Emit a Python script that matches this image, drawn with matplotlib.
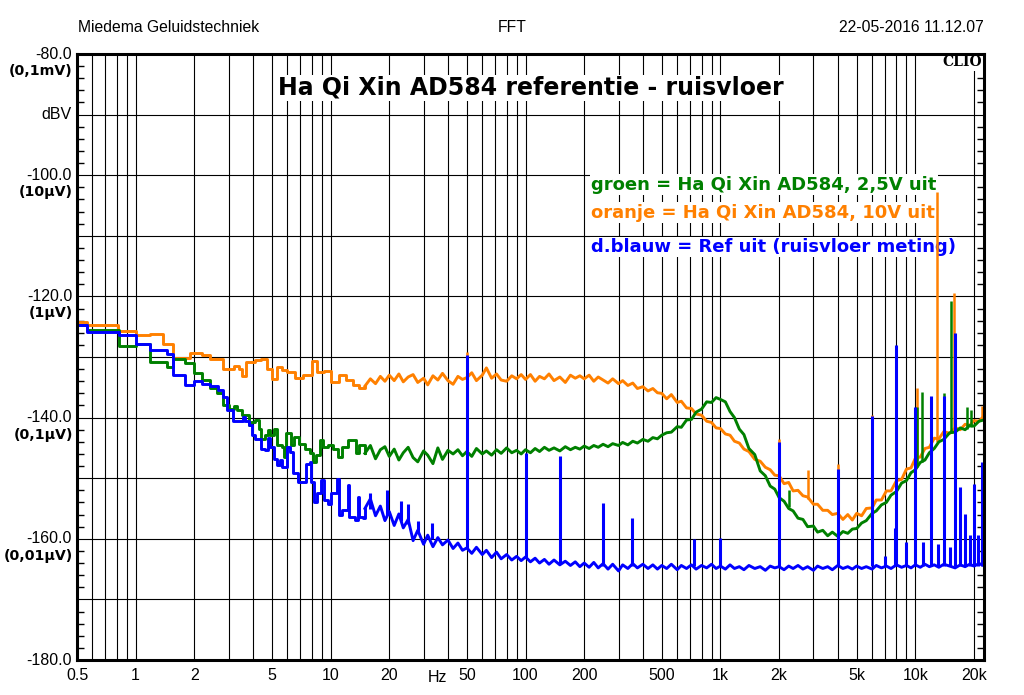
import matplotlib
matplotlib.use('Agg')
import matplotlib.pyplot as plt

# ---- values (Hz, dBV) ----
# low end: step values (each level holds until the next frequency)
lo_orange_hz = [0.5, 0.56, 0.81, 1.0, 1.18, 1.38, 1.55, 1.9, 2.2, 2.4, 2.8, 3.2, 3.4, 3.5, 3.7, 4.1,
                4.4, 4.7, 5.0, 5.3, 5.6, 6.0, 6.6, 7.2, 8.0, 8.5, 9.2, 10, 11, 12, 13, 14]
lo_orange_db = [-124.2, -124.7, -125.7, -126.4, -126.2, -127.8, -130.1, -129.3, -129.7, -130.3, -132.0,
                -131.5, -131.9, -133.2, -130.8, -130.5, -130.3, -131.9, -133.7, -131.6, -132.2, -132.5,
                -133.4, -133.0, -130.7, -132.5, -132.3, -134.1, -133.0, -133.8, -134.7, -135.1]

lo_green_hz = [0.5, 0.56, 0.82, 1.0, 1.18, 1.45, 1.55, 1.8, 2.0, 2.2, 2.4, 2.6, 2.8, 3.0, 3.2, 3.3, 3.5,
               3.8, 3.9, 4.1, 4.3, 4.4, 4.6, 4.8, 4.9, 5.1, 5.3, 5.6, 5.8, 5.9, 6.3, 6.5, 6.9, 7.4, 7.8,
               8.1, 8.4, 8.8, 9.1, 9.7, 10.3, 10.9, 11.5, 12.3, 13.5, 14]
lo_green_db = [-124.8, -125.6, -128.2, -127.8, -130.8, -131.6, -130.4, -131.0, -132.6, -133.8, -135.1,
               -135.9, -138.0, -138.5, -138.1, -138.8, -139.6, -141.3, -140.7, -140.4, -141.8, -143.5,
               -142.9, -142.1, -142.9, -141.8, -144.6, -144.8, -146.5, -142.6, -144.6, -143.2, -144.3,
               -145.1, -145.9, -147.3, -146.2, -143.7, -144.8, -144.6, -145.1, -146.5, -144.8, -143.7,
               -145.9, -144.6]

lo_blue_hz = [0.5, 0.56, 0.82, 1.0, 1.18, 1.45, 1.55, 1.8, 2.0, 2.2, 2.4, 2.65, 2.8, 2.95, 3.15, 3.55,
              3.65, 3.8, 3.95, 4.1, 4.4, 4.6, 4.8, 4.9, 5.1, 5.3, 5.5, 5.65, 5.95, 6.2, 6.4, 6.8, 7.5,
              7.8, 7.9, 8.2, 8.5, 8.9, 9.3, 9.7, 10.1, 10.8, 11, 11.5, 12.3, 12.5, 13.3, 13.8, 14, 14.7]
lo_blue_db = [-124.8, -125.9, -126.3, -127.9, -128.8, -129.5, -133.0, -134.7, -134.0, -134.5, -134.8,
              -135.5, -136.6, -138.8, -140.5, -139.9, -140.5, -141.3, -142.9, -143.5, -145.1, -145.4,
              -143.3, -144.8, -146.8, -147.9, -147.0, -148.1, -144.8, -145.7, -149.2, -150.6, -147.6,
              -147.3, -150.6, -153.9, -152.5, -150.3, -153.6, -154.2, -152.5, -150.1, -156.1, -155.3,
              -151.2, -156.4, -156.9, -153.1, -156.4, -156.6]

# from 15 Hz up: one common frequency grid
grid_hz = [15, 16, 17, 18, 19,
           20, 21.2, 22.4, 23.6, 25, 26.5, 28, 30, 31.5, 33.5, 35.5, 37.5, 40, 42.5, 45, 47.5,
           50, 53, 56, 60, 63, 67, 71, 75, 80, 85, 90, 95,
           100, 106, 112, 118, 125, 132, 140, 150, 160, 170, 180, 190,
           200, 212, 224, 236, 250, 265, 280, 300, 315, 335, 355, 375, 400, 425, 450, 475,
           500, 530, 560, 600, 630, 670, 710, 750, 800, 850, 900, 950,
           1000, 1060, 1120, 1180, 1250, 1320, 1400, 1500, 1600, 1700, 1800, 1900,
           2000, 2120, 2240, 2360, 2500, 2650, 2800, 3000, 3150, 3350, 3550, 3750, 4000, 4250, 4500, 4750,
           5000, 5300, 5600, 6000, 6300, 6700, 7100, 7500, 8000, 8500, 9000, 9500,
           10000, 10600, 11200, 11800, 12500, 13200, 14000, 15000, 16000, 17000, 18000, 19000,
           20000, 21200, 22400]

orange_db = [-134.8, -133.6, -134.4, -133.2, -134.0,
             -133.0, -133.9, -132.8, -134.1, -133.3, -132.9, -134.2, -133.5, -134.6, -133.1, -133.8, -132.7,
             -133.9, -134.5, -133.2, -133.7,
             -133.4, -132.6, -133.9, -133.0, -131.8, -133.5, -132.8, -133.8, -134.0, -133.1, -133.6, -132.9,
             -133.7, -132.9, -134.0, -133.2, -133.6, -132.8, -133.9, -133.3, -134.2, -133.0, -133.5, -133.1,
             -133.6, -133.0, -134.0, -133.3, -133.8, -134.3, -133.6, -134.4, -133.9, -134.7, -134.3, -135.2,
             -134.9, -135.6, -135.2, -135.9,
             -136.0, -136.9, -136.2, -137.5, -137.3, -138.4, -138.5, -139.4, -139.6, -140.6, -140.8, -141.7,
             -141.8, -142.7, -142.9, -143.9, -144.2, -145.2, -145.6, -146.9, -147.2, -148.2, -148.6, -149.5,
             -149.6, -150.9, -150.7, -152.1, -152.0, -152.9, -153.1, -154.3, -154.3, -155.3, -155.3, -156.0,
             -155.8, -156.8, -156.0, -156.9,
             -155.8, -156.2, -155.0, -154.9, -153.6, -153.6, -152.1, -152.1, -150.4, -150.2, -148.5, -148.3,
             -146.7, -146.5, -145.1, -144.9, -143.4, -143.5, -142.3, -142.6, -141.7, -142.0, -141.1, -141.3,
             -140.5, -140.6, -139.8]

green_db = [-145.9, -144.6, -146.8, -145.3, -144.8,
            -146.4, -145.2, -147.0, -145.8, -144.9, -146.6, -147.3, -145.5, -146.2, -147.6, -145.0, -146.9,
            -145.4, -146.0, -145.3, -146.3,
            -145.6, -146.4, -145.1, -146.0, -145.5, -146.2, -145.3, -145.9, -145.0, -145.8, -145.4, -146.0,
            -145.3, -145.8, -145.1, -145.6, -144.9, -145.4, -145.0, -145.5, -144.8, -145.3, -144.9, -145.2,
            -144.7, -145.1, -144.6, -144.9, -144.4, -144.8, -144.3, -144.6, -144.1, -144.5, -143.9, -144.2,
            -143.6, -143.9, -143.3, -143.5,
            -142.9, -142.5, -142.4, -141.5, -141.6, -140.4, -140.3, -139.1, -138.6, -137.4, -137.5, -136.7,
            -137.0, -137.4, -139.0, -140.0, -141.9, -142.8, -145.1, -146.1, -148.8, -149.6, -151.3, -151.8,
            -153.2, -153.8, -155.0, -155.4, -156.6, -156.8, -158.0, -157.9, -158.9, -158.6, -159.5, -158.9,
            -159.6, -158.8, -159.1, -158.4,
            -158.3, -157.4, -157.0, -155.8, -155.4, -154.4, -154.0, -152.8, -152.2, -150.8, -150.4, -149.1,
            -148.6, -147.4, -147.0, -145.8, -145.1, -144.0, -143.6, -142.5, -142.4, -141.7, -142.0, -141.3,
            -141.4, -140.6, -140.4]

blue_db = [-155.0, -153.4, -156.2, -154.6, -157.0,
           -155.5, -157.8, -155.9, -158.2, -156.8, -160.3, -158.6, -160.9, -159.4, -161.3, -159.8, -161.0,
           -160.2, -161.6, -160.7, -161.9,
           -161.5, -162.4, -161.4, -162.6, -161.9, -163.1, -162.2, -163.3, -162.6, -163.5, -162.9, -163.6,
           -163.0, -163.8, -163.2, -164.0, -163.4, -164.2, -163.5, -164.3, -163.7, -164.4, -163.8, -164.6,
           -164.0, -164.7, -163.9, -164.8, -164.1, -165.0, -164.2, -165.3, -164.3, -164.9, -164.1, -164.8,
           -164.2, -164.9, -164.3, -165.0,
           -164.4, -164.9, -164.2, -165.1, -164.4, -164.9, -164.3, -165.0, -164.4, -164.8, -164.2, -164.9,
           -164.5, -165.0, -164.3, -164.9, -164.6, -165.1, -164.4, -164.9, -164.6, -165.2, -164.5, -164.8,
           -164.6, -165.1, -164.5, -164.9, -164.4, -165.0, -164.6, -165.2, -164.5, -164.9, -164.6, -165.1,
           -164.4, -164.9, -164.6, -165.0,
           -164.5, -164.9, -164.6, -165.0, -164.4, -164.8, -164.5, -164.9, -164.3, -164.7, -164.4, -164.8,
           -164.3, -164.7, -164.2, -164.6, -164.3, -164.7, -164.2, -164.5, -164.8, -164.3, -164.6, -164.2,
           -164.5, -164.1, -164.4]

# hum / interference lines: frequency, foot and tip
orange_spike_hz = [50, 2000, 2820, 4000, 6000, 10200, 12900, 15800, 22000]
orange_spike_base = [-133.5, -149.9, -153.4, -156.1, -154.6, -147.0, -144.0, -142.0, -140.1]
orange_spike_top = [-129.2, -143.6, -148.7, -147.7, -139.6, -135.1, -102.8, -119.4, -138.1]

green_spike_hz = [2250, 10200, 10800, 14000, 15200, 18300, 19200]
green_spike_base = [-154.8, -148.2, -147.4, -143.4, -142.6, -141.8, -141.5]
green_spike_top = [-152.0, -138.2, -135.7, -135.9, -120.8, -138.2, -138.7]

blue_spike_hz = [16, 19.5, 23, 25, 28, 33, 50, 100, 150, 250, 350, 730, 1000, 2000, 4000, 6000,
                 7000, 7900, 8000, 9000, 10000, 11000, 12000, 13000, 14000, 15000, 16000, 17000,
                 18000, 19000, 20000, 21000, 22000]
blue_spike_base = [-155.0, -156.0, -157.0, -157.5, -159.0, -160.0, -161.6, -163.0, -164.0, -164.5,
                   -164.5, -164.5, -164.5, -164.5, -164.5, -164.5, -164.5, -164.5, -164.5, -164.5,
                   -164.5, -164.5, -164.5, -164.5, -164.5, -164.5, -164.5, -164.5, -164.5, -164.5,
                   -164.5, -164.5, -164.5]
blue_spike_top = [-152.4, -152.0, -153.8, -154.2, -157.0, -157.4, -129.7, -145.9, -146.3, -154.1,
                  -156.5, -160.0, -159.8, -144.0, -148.4, -139.7, -162.8, -158.3, -128.0, -160.6,
                  -138.2, -160.6, -136.5, -160.8, -136.5, -161.4, -126.0, -151.4, -155.9, -159.4,
                  -150.9, -159.4, -147.3]

grid_lines = [0.6, 0.7, 0.8, 0.9, 1, 2, 3, 4, 5, 6, 7, 8, 9, 10, 20, 30, 40, 50, 60, 70, 80, 90,
              100, 200, 300, 400, 500, 600, 700, 800, 900, 1000, 2000, 3000, 4000, 5000, 6000, 7000,
              8000, 9000, 10000, 20000]
x_labels = {0.5: '0.5', 1: '1', 2: '2', 5: '5', 10: '10', 20: '20', 50: '50', 100: '100', 200: '200',
            500: '500', 1000: '1k', 2000: '2k', 5000: '5k', 10000: '10k', 20000: '20k'}
y_labels = [(-80, '-80.0', '(0,1mV)'), (-90, 'dBV', None), (-100, '-100.0', '(10µV)'),
            (-120, '-120.0', '(1µV)'), (-140, '-140.0', '(0,1µV)'), (-160, '-160.0', '(0,01µV)'),
            (-180, '-180.0', None)]

ORANGE = '#ff8000'
GREEN = '#008000'
BLUE = '#0000ff'

plt.rcParams['font.family'] = ['Liberation Sans', 'DejaVu Sans']

fig = plt.figure(figsize=(10.24, 6.95), dpi=100)
ax = fig.add_axes([77 / 1024, 1 - 660 / 695, 907 / 1024, 606 / 695])
ax.set_xscale('log')
ax.set_xlim(0.5, 22500)
ax.set_ylim(-180, -80)

# grid
ticks = [0.5] + grid_lines
ax.set_xticks(ticks, [x_labels.get(t, '') for t in ticks])
ax.xaxis.set_minor_locator(matplotlib.ticker.NullLocator())
ax.set_yticks(range(-180, -79, 10), [])
ax.set_yticks(range(-180, -79, 2), minor=True)
ax.grid(True, which='major', color='black', lw=0.8, zorder=1)
ax.tick_params(axis='x', length=0, pad=6, labelsize=11.5)
ax.tick_params(axis='y', which='both', direction='in', left=True, right=True, length=0)
ax.tick_params(axis='y', which='minor', length=5, width=1, color='black')
for s in ax.spines.values():
    s.set_linewidth(2.2)
    s.set_zorder(6)


def draw(lo_hz, lo_db, db, spike_hz, spike_base, spike_top, col, z, spike_lw=1.8):
    # stepped low end, then the dense part as a plain line
    ax.plot(lo_hz + [grid_hz[0]], lo_db + [db[0]], drawstyle='steps-post', color=col, lw=2.1, zorder=z)
    ax.plot(grid_hz, db, color=col, lw=2.1, zorder=z)
    ax.vlines(spike_hz, spike_base, spike_top, color=col, lw=spike_lw, zorder=z)


draw(lo_orange_hz, lo_orange_db, orange_db, orange_spike_hz, orange_spike_base, orange_spike_top, ORANGE, 3)
draw(lo_green_hz, lo_green_db, green_db, green_spike_hz, green_spike_base, green_spike_top, GREEN, 3.1)
draw(lo_blue_hz, lo_blue_db, blue_db, blue_spike_hz, blue_spike_base, blue_spike_top, BLUE, 3.2, 2.2)

# texts
white = dict(facecolor='white', edgecolor='none', pad=1)
bold = ['DejaVu Sans']
ax.text(0.5, -85.6, 'Ha Qi Xin AD584 referentie - ruisvloer', transform=ax.get_yaxis_transform(),
        ha='center', va='center', fontsize=17, fontweight='bold', family=bold, bbox=white, zorder=2)
legend = [('groen = Ha Qi Xin AD584, 2,5V uit', GREEN, -101.6),
          ('oranje = Ha Qi Xin AD584, 10V uit', ORANGE, -106.2),
          ('d.blauw = Ref uit (ruisvloer meting)', BLUE, -111.85)]
for txt, col, yv in legend:
    ax.text(0.5667, yv, txt, transform=ax.get_yaxis_transform(), ha='left', va='center',
            fontsize=13, fontweight='bold', family=bold, color=col, bbox=white, zorder=2)
ax.text(0.998, -80.2, 'CLIO', transform=ax.get_yaxis_transform(), ha='right', va='top',
        fontsize=10, fontweight='bold', family=['DejaVu Serif'], bbox=white, zorder=2)

for yv, main, sub in y_labels:
    ax.annotate(main, xy=(0, yv), xycoords=('axes fraction', 'data'), xytext=(-5, 0),
                textcoords='offset pixels', ha='right', va='center', fontsize=11.5)
    if sub:
        ax.annotate(sub, xy=(0, yv), xycoords=('axes fraction', 'data'), xytext=(-4, -17),
                    textcoords='offset pixels', ha='right', va='center', fontsize=10.2,
                    fontweight='bold', family=bold)
ax.annotate('Hz', xy=(35.4, 0), xycoords=('data', 'axes fraction'), xytext=(0, -18),
            textcoords='offset pixels', ha='center', va='center', fontsize=11.5)

fig.text(78 / 1024, 1 - 27 / 695, 'Miedema Geluidstechniek', ha='left', va='center', fontsize=11.3)
fig.text(512 / 1024, 1 - 27 / 695, 'FFT', ha='center', va='center', fontsize=11.3)
fig.text(984 / 1024, 1 - 27 / 695, '22-05-2016 11.12.07', ha='right', va='center', fontsize=11.3)

fig.savefig('out.png', dpi=100)
